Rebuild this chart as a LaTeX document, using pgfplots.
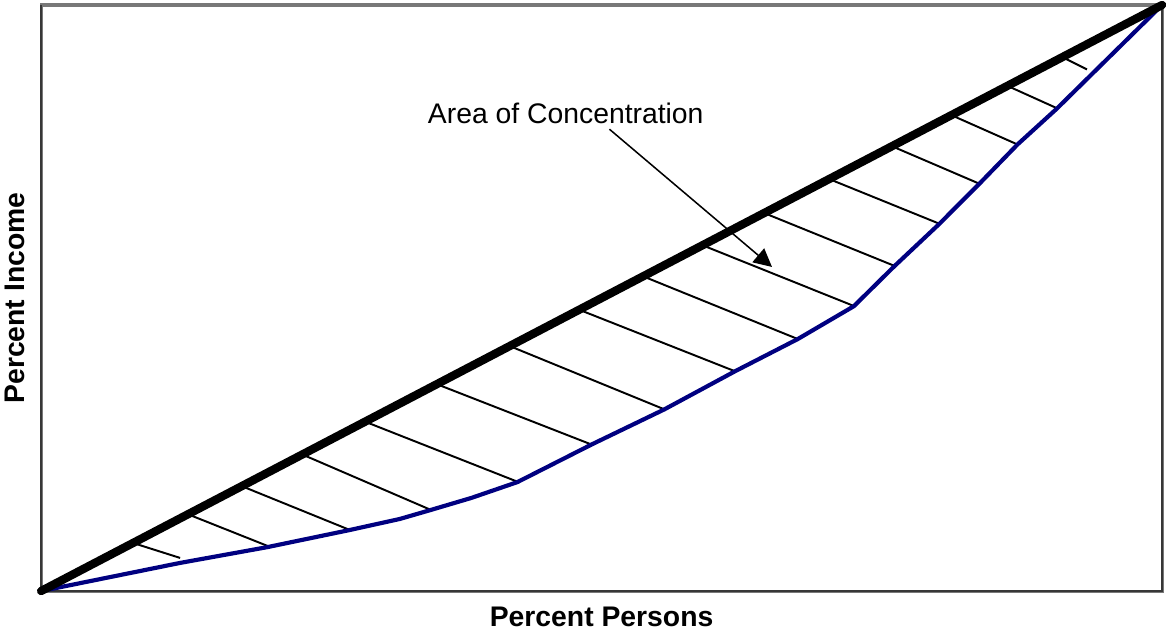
\documentclass[border=0pt]{standalone}
\usepackage{fontspec}
\setmainfont{Liberation Sans}
\usepackage{pgfplots}
\pgfplotsset{compat=1.18}
\usetikzlibrary{arrows.meta}

\definecolor{curveblue}{RGB}{0,0,128}
\definecolor{framegray}{RGB}{120,120,120}
\definecolor{framedark}{RGB}{55,55,55}

\begin{document}
\begin{tikzpicture}
  % page size: 1166x629 px at 0.36pt per px
  \path[use as bounding box] (-14.8pt,-13.7pt) rectangle (405pt,212.8pt);
  \begin{axis}[
      at={(0,0)}, anchor=south west,
      scale only axis,
      width=403.6pt, height=211pt,
      xmin=0, xmax=100, ymin=0, ymax=100,
      xtick=\empty, ytick=\empty,
      axis line style={draw=framegray, line width=1.1pt},
      clip=false,
      xlabel={\bfseries Percent Persons},
      ylabel={\bfseries Percent Income},
      xlabel style={at={(axis description cs:0.5,0)}, anchor=center, yshift=-9.4pt},
      ylabel style={at={(axis description cs:0,0.5)}, anchor=center, yshift=9.4pt},
      label style={font=\fontsize{10.2}{12}\selectfont},
      hatch/.style={black, line width=0.7pt, forget plot},
    ]

    % darker edges of the frame
    \draw[framedark, line width=0.6pt]
      (axis description cs:0,1) -- (axis description cs:0,0)
      -- (axis description cs:1,0) -- (axis description cs:1,1);

    % hatch lines (from line of equality down to the curve)
    \addplot[hatch] coordinates {(8.2,8.2) (12.4,5.65)};
    \addplot[hatch] coordinates {(13.1,13.1) (20.2,7.7)};
    \addplot[hatch] coordinates {(17.9,17.9) (27.5,10.45)};
    \addplot[hatch] coordinates {(23.3,23.3) (34.7,13.9)};
    \addplot[hatch] coordinates {(28.9,28.9) (42.5,18.65)};
    \addplot[hatch] coordinates {(35.3,35.3) (49.1,25.0)};
    \addplot[hatch] coordinates {(41.8,41.8) (55.6,31.0)};
    \addplot[hatch] coordinates {(48.0,48.0) (61.9,37.5)};
    \addplot[hatch] coordinates {(53.7,53.7) (67.5,43.0)};
    \addplot[hatch] coordinates {(59.0,59.0) (72.55,48.6)};
    \addplot[hatch] coordinates {(64.5,64.5) (76.1,55.5)};
    \addplot[hatch] coordinates {(70.3,70.3) (80.1,62.7)};
    \addplot[hatch] coordinates {(75.9,75.9) (83.7,69.5)};
    \addplot[hatch] coordinates {(81.2,81.2) (87.1,76.2)};
    \addplot[hatch] coordinates {(86.2,86.2) (90.6,82.4)};
    \addplot[hatch] coordinates {(91.1,91.1) (93.3,89.0)};

    % Lorenz curve
    \addplot[curveblue, line width=1.5pt, line join=round] coordinates {
      (0,0) (12.4,4.8) (20.2,7.5) (27.5,10.4) (32.0,12.3) (34.7,13.8)
      (38.4,15.9) (42.5,18.6) (49.1,25.0) (55.6,31.0) (61.9,37.5)
      (67.5,43.0) (72.5,48.6) (76.1,55.4) (80.1,62.6) (83.7,69.5)
      (87.1,76.2) (90.6,82.3) (100,100)
    };

    % line of equality
    \addplot[black, line width=3pt, line cap=round] coordinates {
      (0,0) (100,100)
    };

    \node[font=\fontsize{10.2}{12}\selectfont] at (axis cs:46.8,81.5) {Area of Concentration};
    \draw[line width=0.55pt, -{Triangle[length=6.5pt,width=6.5pt]}]
      (axis cs:50.7,78.8) -- (axis cs:65.2,55.3);
  \end{axis}
\end{tikzpicture}
\end{document}
